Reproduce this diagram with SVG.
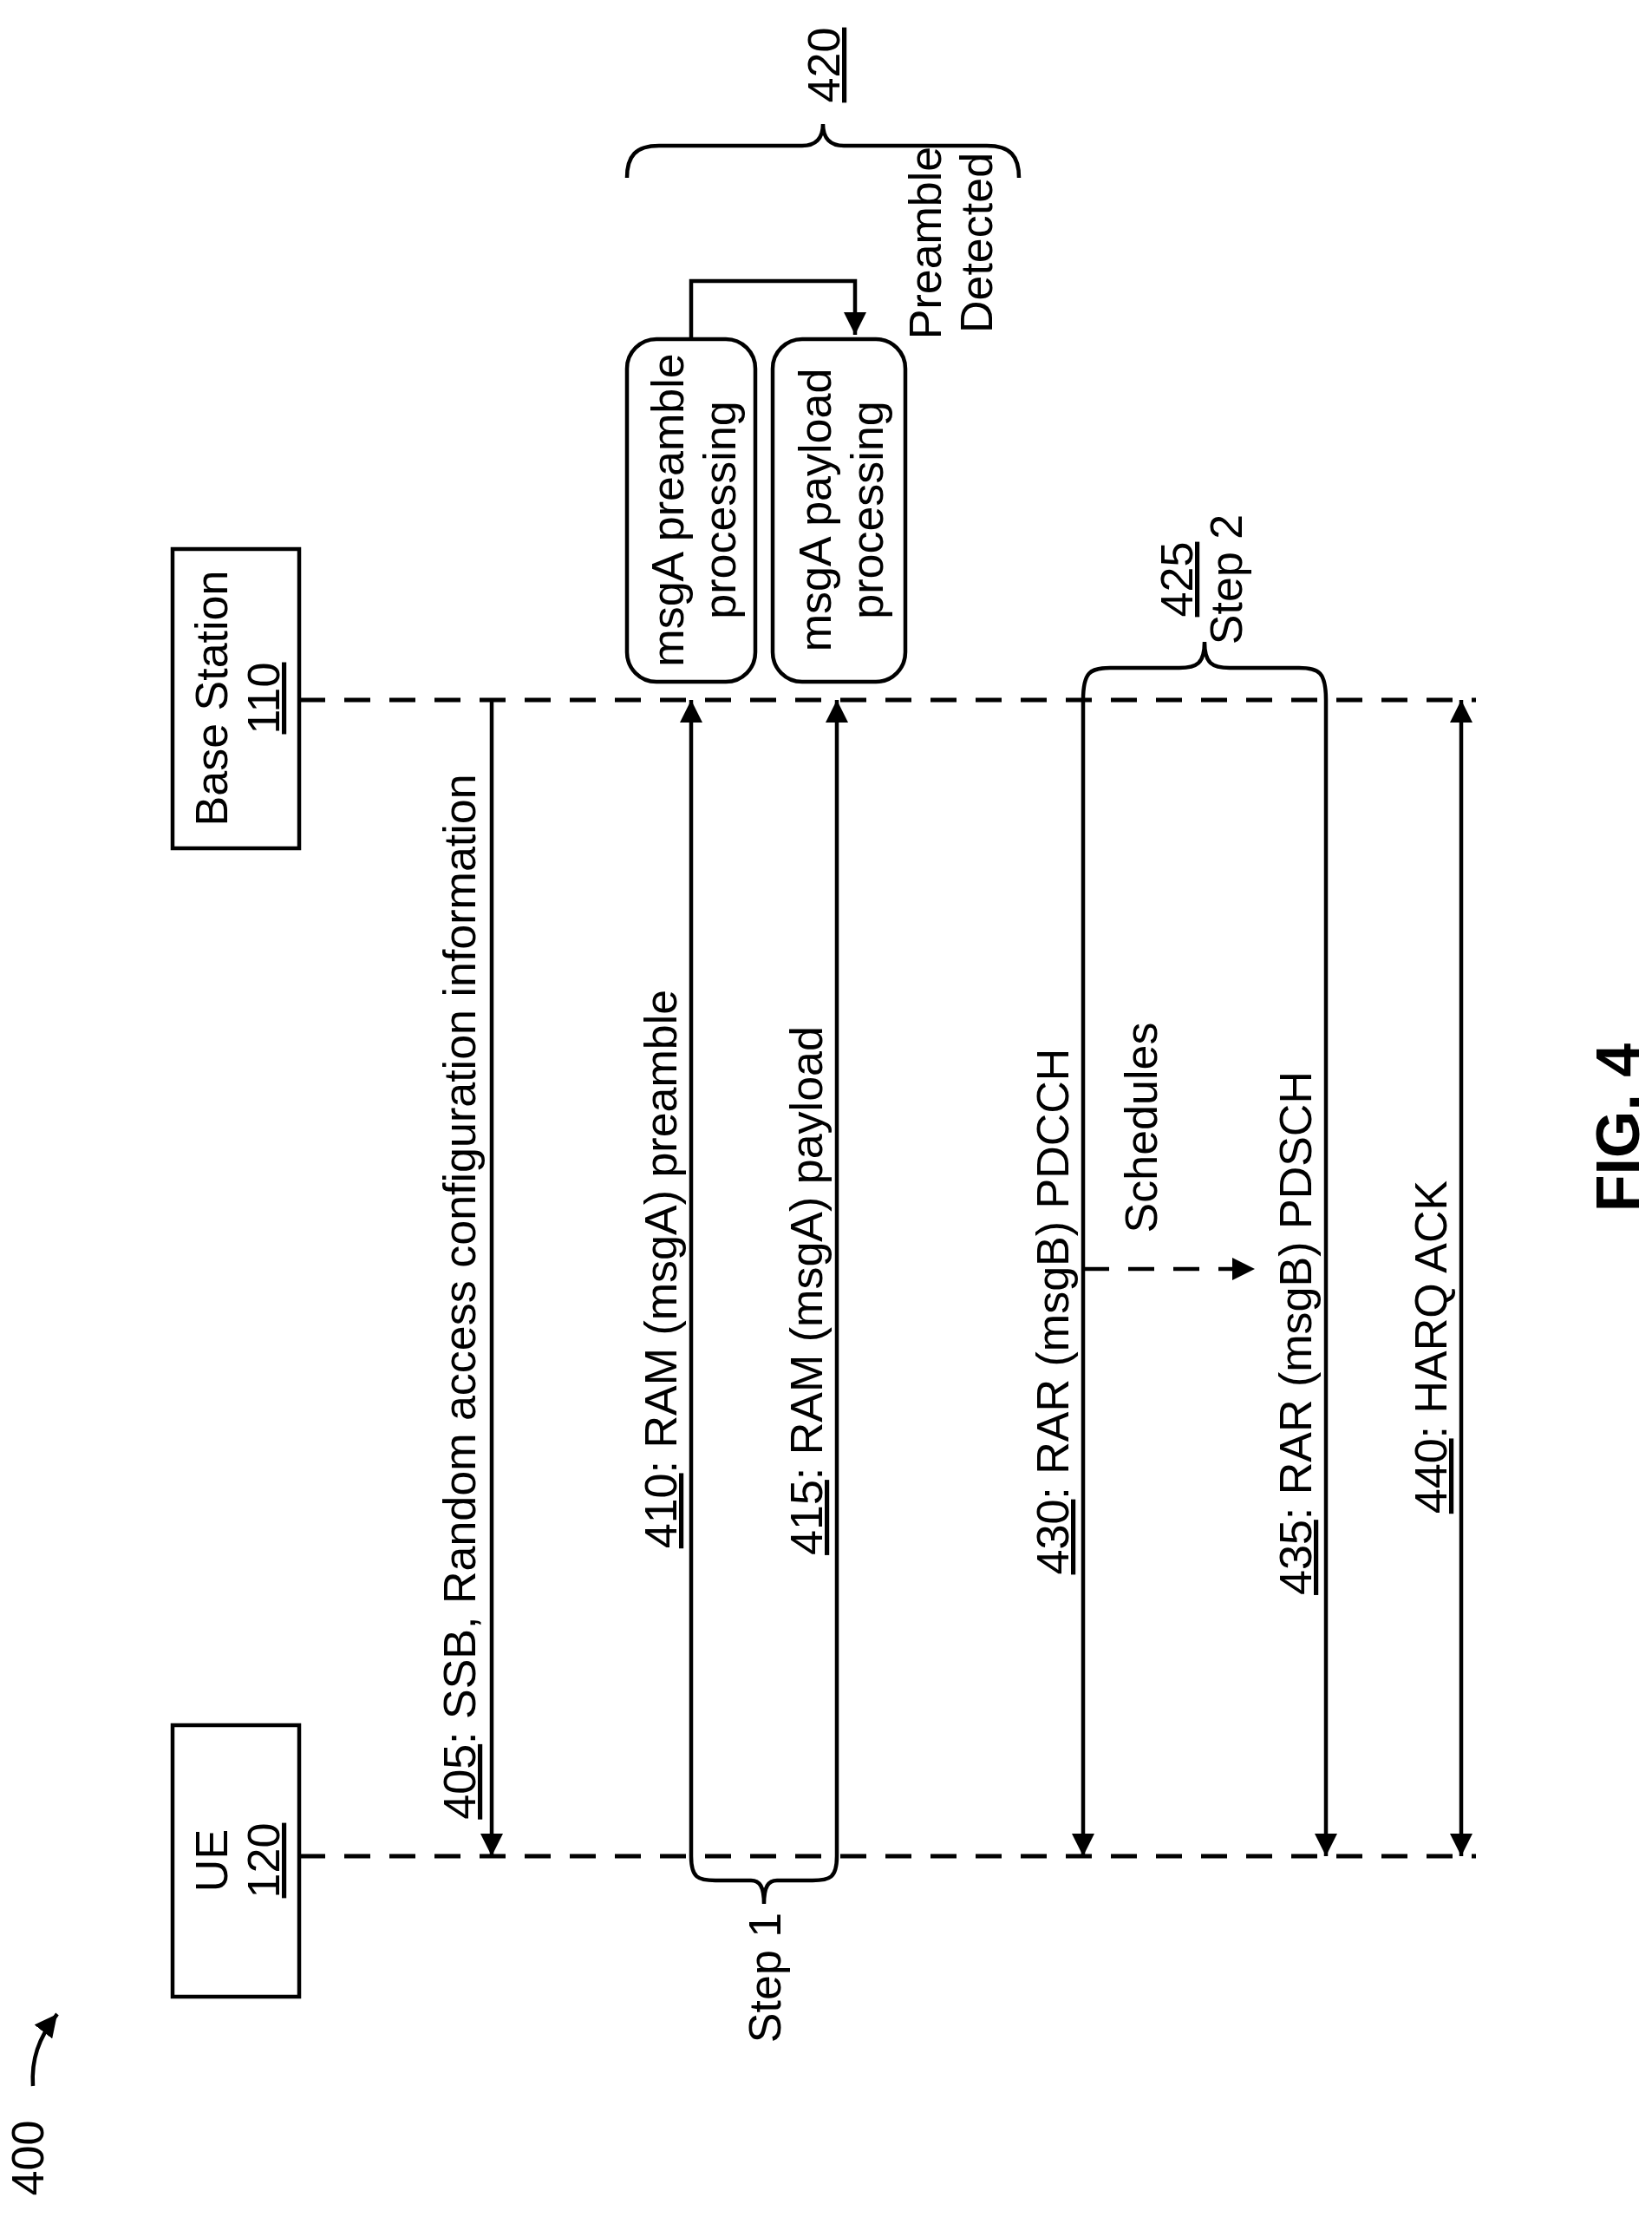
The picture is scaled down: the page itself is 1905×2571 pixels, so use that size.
<svg xmlns="http://www.w3.org/2000/svg" width="1905" height="2571" viewBox="0 0 1905 2571">
<defs>
<marker id="a" viewBox="0 0 26 26" refX="26" refY="13" markerWidth="26" markerHeight="26" markerUnits="userSpaceOnUse" orient="auto-start-reverse"><path d="M0,0 L26,13 L0,26 z" fill="#000"/></marker>
<style>
text{font-family:"Liberation Sans",Arial,sans-serif;font-size:52px;fill:#000}
.ln{stroke:#000;stroke-width:4.5;fill:none}
.ds{stroke:#000;stroke-width:5;fill:none;stroke-dasharray:30,22}
.bx{stroke:#000;stroke-width:4.5;fill:#fff}
</style>
</defs>
<g id="n400"><text transform="translate(50,2488) rotate(-90)" text-anchor="middle">400</text>
<path class="ln" d="M38,2405 C36,2375 44,2350 66,2322" marker-end="url(#a)"/></g>
<g id="ue"><rect class="bx" x="199" y="1989" width="146" height="313"/>
<text transform="translate(262,2145) rotate(-90)" text-anchor="middle">UE</text>
<text transform="translate(322,2145) rotate(-90)" text-anchor="middle" text-decoration="underline">120</text></g>
<g id="bs"><rect class="bx" x="199" y="633" width="146" height="345"/>
<text transform="translate(262,805) rotate(-90)" text-anchor="middle">Base Station</text>
<text transform="translate(322,805) rotate(-90)" text-anchor="middle" text-decoration="underline">110</text></g>
<g id="p1"><rect class="bx" x="723" y="391" width="148" height="395" rx="34"/>
<text transform="translate(788,588) rotate(-90)" text-anchor="middle">msgA preamble</text>
<text transform="translate(848,588) rotate(-90)" text-anchor="middle">processing</text></g>
<g id="p2"><rect class="bx" x="891" y="391" width="153" height="395" rx="34"/>
<text transform="translate(958,588) rotate(-90)" text-anchor="middle">msgA payload</text>
<text transform="translate(1018,588) rotate(-90)" text-anchor="middle">processing</text></g>
<g id="connectors">
<line class="ds" x1="345" y1="807" x2="1702" y2="807"/>
<line class="ds" x1="345" y1="2140" x2="1702" y2="2140"/>
<line class="ln" x1="567" y1="807" x2="567" y2="2140" marker-end="url(#a)"/>
<line class="ln" x1="797" y1="2140" x2="797" y2="807" marker-end="url(#a)"/>
<line class="ln" x1="965" y1="2140" x2="965" y2="807" marker-end="url(#a)"/>
<line class="ln" x1="1249" y1="807" x2="1249" y2="2140" marker-end="url(#a)"/>
<line class="ln" x1="1529" y1="807" x2="1529" y2="2140" marker-end="url(#a)"/>
<line class="ln" x1="1685" y1="2140" x2="1685" y2="807" marker-start="url(#a)" marker-end="url(#a)"/>
<line class="ln" x1="1249" y1="1463" x2="1447" y2="1463" stroke-dasharray="30,22" marker-end="url(#a)"/>
<path class="ln" d="M797,391 V324 H986 V386" marker-end="url(#a)"/>
<path class="ln" d="M797,2140 C797,2165 805,2168 825,2168 H866 C876,2168 881,2175 881,2195 C881,2175 886,2168 896,2168 H937 C957,2168 965,2165 965,2140"/>
<path class="ln" d="M1249,807 C1249,775 1257,770 1280,770 H1360 C1380,770 1389,765 1389,740 C1389,765 1398,770 1418,770 H1498 C1521,770 1529,775 1529,807"/>
<path class="ln" d="M723,205 C723,180 733,168 760,168 H925 C940,168 949,160 949,143 C949,160 958,168 973,168 H1138 C1165,168 1175,180 1175,205"/>
</g>
<g id="labels">
<text transform="translate(548,1495) rotate(-90)" text-anchor="middle"><tspan text-decoration="underline">405</tspan>: SSB, Random access configuration information</text>
<text transform="translate(780,1463) rotate(-90)" text-anchor="middle"><tspan text-decoration="underline">410</tspan>: RAM (msgA) preamble</text>
<text transform="translate(948,1488) rotate(-90)" text-anchor="middle"><tspan text-decoration="underline">415</tspan>: RAM (msgA) payload</text>
<text transform="translate(1232,1512) rotate(-90)" text-anchor="middle"><tspan text-decoration="underline">430</tspan>: RAR (msgB) PDCCH</text>
<text transform="translate(1512,1537) rotate(-90)" text-anchor="middle"><tspan text-decoration="underline">435</tspan>: RAR (msgB) PDSCH</text>
<text transform="translate(1668,1553) rotate(-90)" text-anchor="middle"><tspan text-decoration="underline">440</tspan>: HARQ ACK</text>
<text transform="translate(1334,1300) rotate(-90)" text-anchor="middle">Schedules</text>
<text transform="translate(900,2280) rotate(-90)" text-anchor="middle">Step 1</text>
<text transform="translate(1375,668) rotate(-90)" text-anchor="middle" text-decoration="underline">425</text>
<text transform="translate(1432,668) rotate(-90)" text-anchor="middle">Step 2</text>
<text transform="translate(1085,280) rotate(-90)" text-anchor="middle">Preamble</text>
<text transform="translate(1144,280) rotate(-90)" text-anchor="middle">Detected</text>
<text transform="translate(968,75) rotate(-90)" text-anchor="middle" text-decoration="underline">420</text>
<text transform="translate(1890,1300) rotate(-90)" text-anchor="middle" style="font-size:70px;font-weight:bold">FIG. 4</text>
</g>
</svg>
